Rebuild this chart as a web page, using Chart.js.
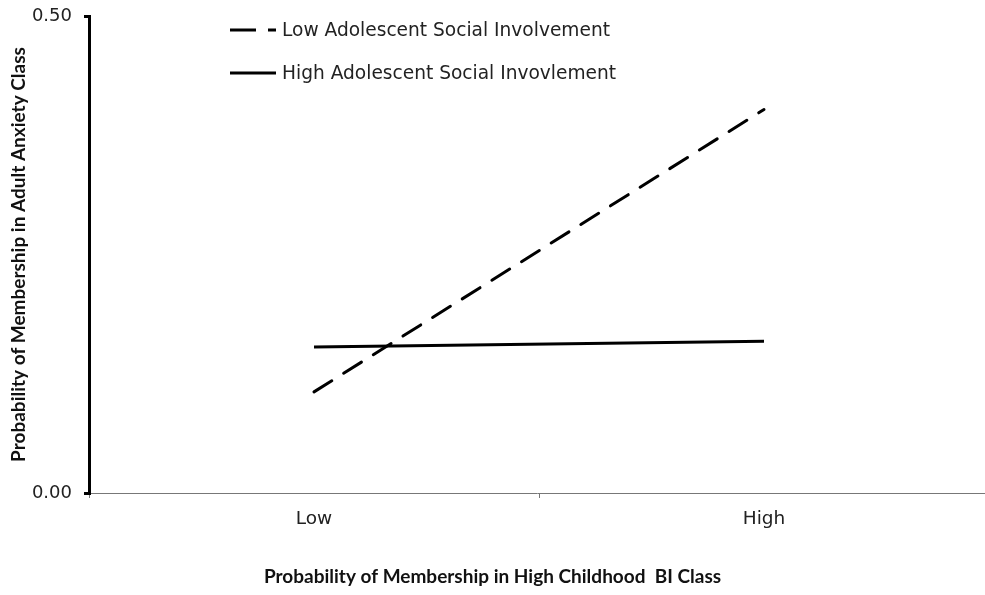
<!DOCTYPE html>
<html>
<head>
<meta charset="utf-8">
<script src="https://cdn.jsdelivr.net/npm/chart.js@4.4.1/dist/chart.umd.min.js"></script>
<style>
  html, body { margin: 0; padding: 0; background: #ffffff; }
  #wrap { width: 985px; height: 595px; }
</style>
</head>
<body>
<div id="wrap"><canvas id="c" width="985" height="595"></canvas></div>
<script>
// Interaction plot: childhood BI class x adolescent social involvement
const categories = ['Low', 'High'];
const lowSocialInvolvement = [0.106, 0.402];
const highSocialInvolvement = [0.153, 0.159];
const seriesLabels = ['Low Adolescent Social Involvement', 'High Adolescent Social Invovlement'];
const yTickValues = [0, 0.5];
const xAxisTitle = 'Probability of Membership in High Childhood  BI Class';
const yAxisTitle = 'Probability of Membership in Adult Anxiety Class';

const LABEL_FONT = '"DejaVu Sans", sans-serif';
const TITLE_FONT = 'Lato, "Open Sans", sans-serif';

// The category axis runs a few pixels past the right edge of the canvas
const axisOverrun = {
  id: 'axisOverrun',
  afterLayout(chart) {
    const x = chart.scales.x;
    x.right += 4;
    x.width += 4;
    x.configure();
  }
};

// Legend drawn inside the plot area, top-left
const inlineLegend = {
  id: 'inlineLegend',
  afterDraw(chart) {
    const ctx = chart.ctx;
    const a = chart.chartArea;
    const x0 = a.left + 141;
    const sampleLen = 46;
    const rows = [a.top + 14, a.top + 57];
    chart.data.datasets.forEach((ds, i) => {
      const y = rows[i];
      ctx.save();
      ctx.strokeStyle = ds.borderColor;
      ctx.lineWidth = 3;
      ctx.lineCap = 'butt';
      ctx.setLineDash(ds.borderDash && ds.borderDash.length ? [26, 12] : []);
      ctx.beginPath();
      ctx.moveTo(x0, y);
      ctx.lineTo(x0 + sampleLen, y);
      ctx.stroke();
      ctx.setLineDash([]);
      ctx.fillStyle = '#222222';
      ctx.font = '18.6px ' + LABEL_FONT;
      ctx.textBaseline = 'middle';
      ctx.textAlign = 'left';
      ctx.fillText(ds.label, x0 + sampleLen + 6, y + 1);
      ctx.restore();
    });
  }
};

new Chart(document.getElementById('c'), {
  type: 'line',
  data: {
    labels: categories,
    datasets: [
      {
        label: seriesLabels[0],
        data: lowSocialInvolvement,
        borderColor: '#000000',
        borderWidth: 3,
        borderDash: [21, 14],
        borderCapStyle: 'round',
        pointRadius: 0,
        fill: false,
        tension: 0
      },
      {
        label: seriesLabels[1],
        data: highSocialInvolvement,
        borderColor: '#000000',
        borderWidth: 3,
        borderCapStyle: 'butt',
        pointRadius: 0,
        fill: false,
        tension: 0
      }
    ]
  },
  options: {
    responsive: false,
    devicePixelRatio: 1,
    animation: false,
    layout: { padding: { top: 16, right: 0, bottom: 6.6, left: 0 } },
    plugins: {
      legend: { display: false },
      tooltip: { enabled: false },
      title: {
        display: true,
        position: 'bottom',
        text: xAxisTitle,
        color: '#111111',
        font: { family: TITLE_FONT, size: 19, weight: 'bold' },
        padding: { top: 0, bottom: 0 }
      }
    },
    scales: {
      x: {
        type: 'category',
        offset: true,
        afterFit(scale) { scale.height = 72.6; },
        grid: {
          offset: true,
          drawOnChartArea: false,
          drawTicks: true,
          tickLength: 5,
          color: '#777777',
          lineWidth: 1
        },
        border: { display: true, color: '#777777', width: 1 },
        ticks: {
          color: '#222222',
          font: { family: LABEL_FONT, size: 18.5 },
          padding: 10,
          maxRotation: 0
        }
      },
      y: {
        min: 0,
        max: 0.5,
        afterFit(scale) {
          scale.width = 89;
          scale.paddingTop = 0;
          scale.paddingBottom = 0;
        },
        afterBuildTicks(scale) { scale.ticks = yTickValues.map(v => ({ value: v })); },
        grid: {
          drawOnChartArea: false,
          drawTicks: true,
          tickLength: 5,
          color: '#000000',
          lineWidth: 3
        },
        border: { display: true, color: '#000000', width: 3 },
        ticks: {
          color: '#222222',
          font: { family: LABEL_FONT, size: 18 },
          padding: 12,
          callback: v => Number(v).toFixed(2)
        },
        title: {
          display: true,
          text: yAxisTitle,
          color: '#111111',
          font: { family: TITLE_FONT, size: 19, weight: 'bold' },
          padding: { top: 7, bottom: 0 }
        }
      }
    }
  },
  plugins: [axisOverrun, inlineLegend]
});
</script>
</body>
</html>
